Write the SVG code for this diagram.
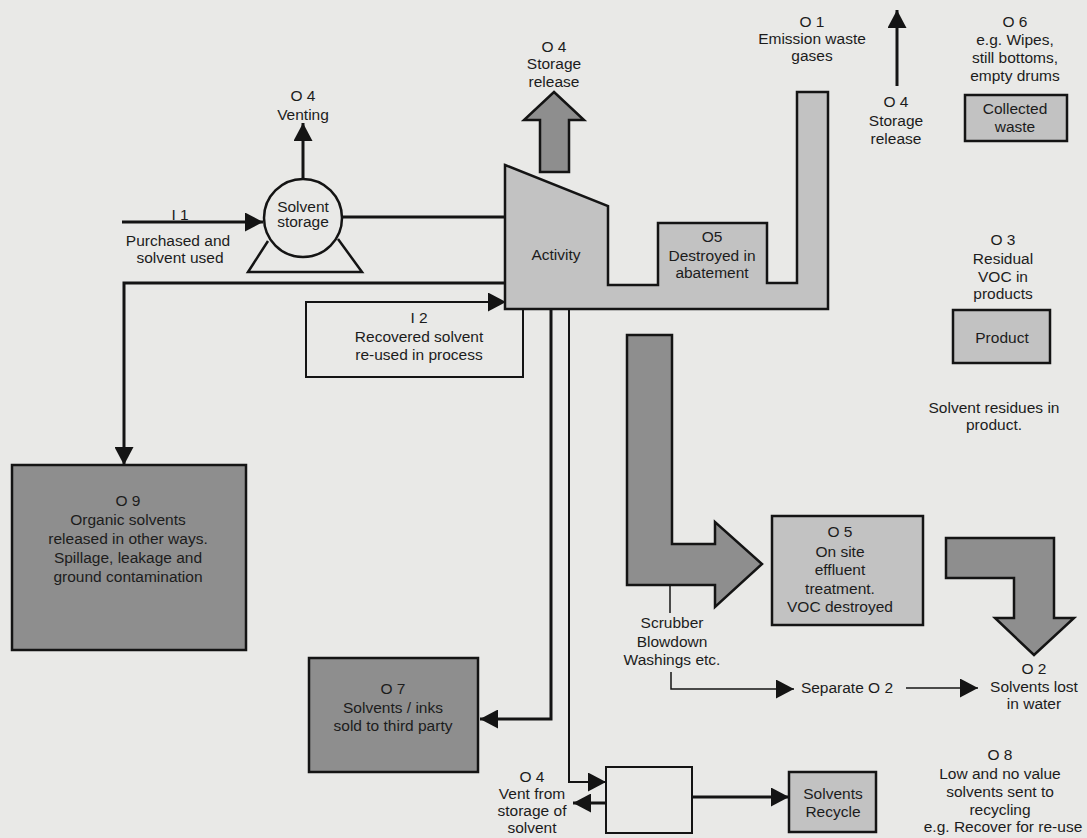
<svg xmlns="http://www.w3.org/2000/svg" width="1087" height="838" viewBox="0 0 1087 838">
<defs>
<marker id="ah" markerUnits="userSpaceOnUse" markerWidth="19" markerHeight="19" refX="18" refY="9.5" orient="auto"><path d="M0,0 L18,9.5 L0,19 z" fill="#141414"/></marker>
</defs>
<style>
text{font-family:"Liberation Sans",Arial,sans-serif;font-size:15.5px;fill:#1c1c1c;text-anchor:middle}
.lt{fill:#c2c2c2;stroke:#141414;stroke-width:2.5}
.dk{fill:#8e8e8e;stroke:#141414;stroke-width:2.5}
.bx{fill:none;stroke:#141414;stroke-width:2}
.ln{fill:none;stroke:#141414;stroke-width:3}
.tn{fill:none;stroke:#141414;stroke-width:2}
.hl{fill:none;stroke:#141414;stroke-width:1.5}
</style>
<rect width="1087" height="838" fill="#e9e9e7"/>

<g id="connectors">
<line class="ln" x1="122" y1="222" x2="263" y2="222" marker-end="url(#ah)"/>
<line class="ln" x1="342" y1="217" x2="506" y2="217"/>
<line class="ln" x1="303" y1="179" x2="303" y2="123" marker-end="url(#ah)"/>
<polyline class="ln" points="506,283 124,283 124,465" marker-end="url(#ah)"/>
<polyline class="ln" points="551,309 551,719 480,719" marker-end="url(#ah)"/>
<polyline class="tn" points="569,309 569,782 606,782" marker-end="url(#ah)"/>
<line class="ln" x1="606" y1="803" x2="573" y2="803" marker-end="url(#ah)"/>
<line class="ln" x1="692" y1="797" x2="789" y2="797" marker-end="url(#ah)"/>
<line class="ln" x1="897" y1="86" x2="897" y2="10" marker-end="url(#ah)"/>
<line class="hl" x1="670" y1="585" x2="670" y2="613"/>
<polyline class="hl" points="671,672 671,689 794,689" marker-end="url(#ah)"/>
<line class="hl" x1="906" y1="688" x2="978" y2="688" marker-end="url(#ah)"/>
</g>

<g id="venting-label">
<text x="303" y="101">O 4</text>
<text x="303" y="120">Venting</text>
</g>

<g id="i1-label">
<text x="180" y="220">I 1</text>
<text x="178" y="246">Purchased and</text>
<text x="180" y="263">solvent used</text>
</g>

<g id="solvent-storage">
<circle cx="303" cy="218" r="39" fill="#e9e9e7" stroke="#141414" stroke-width="2.5"/>
<polyline points="268,241 248,272 362,272 338,239" fill="none" stroke="#141414" stroke-width="2.5"/>
<text x="303" y="212">Solvent</text>
<text x="303" y="227">storage</text>
</g>

<g id="i2">
<rect class="bx" x="306" y="302" width="217" height="75"/>
<line class="tn" x1="306" y1="302" x2="506" y2="302" marker-end="url(#ah)"/>
<text x="419" y="323">I 2</text>
<text x="419" y="342">Recovered solvent</text>
<text x="419" y="360">re-used in process</text>
</g>

<g id="activity">
<polygon class="lt" points="505,165 608,206 608,285 658,285 658,223 767,223 767,283 797,283 797,92 828,92 828,309 505,309"/>
<text x="556" y="260">Activity</text>
<text x="712" y="242">O5</text>
<text x="712" y="261">Destroyed in</text>
<text x="712" y="278">abatement</text>
</g>

<g id="storage-release">
<polygon class="dk" points="554,92 584,120 569,120 569,172 540,172 540,120 524,120"/>
<text x="554" y="52">O 4</text>
<text x="554" y="69">Storage</text>
<text x="554" y="87">release</text>
</g>

<g id="o1-label">
<text x="812" y="27">O 1</text>
<text x="812" y="44">Emission waste</text>
<text x="812" y="61">gases</text>
</g>

<g id="o4-storage-release">
<text x="896" y="107">O 4</text>
<text x="896" y="126">Storage</text>
<text x="896" y="144">release</text>
</g>

<g id="collected-waste">
<text x="1015" y="27">O 6</text>
<text x="1015" y="45">e.g. Wipes,</text>
<text x="1015" y="63">still bottoms,</text>
<text x="1015" y="81">empty drums</text>
<rect class="lt" x="965" y="95" width="102" height="46"/>
<text x="1015" y="114">Collected</text>
<text x="1015" y="132">waste</text>
</g>

<g id="product">
<text x="1003" y="245">O 3</text>
<text x="1003" y="264">Residual</text>
<text x="1003" y="282">VOC in</text>
<text x="1003" y="299">products</text>
<rect class="lt" x="953" y="310" width="97" height="53"/>
<text x="1002" y="343">Product</text>
<text x="994" y="413">Solvent residues in</text>
<text x="994" y="430">product.</text>
</g>

<g id="o9">
<rect class="dk" x="12" y="465" width="234" height="185"/>
<text x="128" y="506">O 9</text>
<text x="128" y="525">Organic solvents</text>
<text x="128" y="544">released in other ways.</text>
<text x="128" y="563">Spillage, leakage and</text>
<text x="128" y="582">ground contamination</text>
</g>

<g id="scrubber-flow">
<polygon class="dk" points="627,335 672,335 672,544 715,544 715,522 762,564 715,607 715,585 627,585"/>
<text x="672" y="628">Scrubber</text>
<text x="672" y="647">Blowdown</text>
<text x="672" y="665">Washings etc.</text>
</g>

<g id="effluent-treatment">
<rect class="lt" x="772" y="516" width="151" height="109"/>
<text x="840" y="537">O 5</text>
<text x="840" y="557">On site</text>
<text x="840" y="575">effluent</text>
<text x="840" y="594">treatment.</text>
<text x="840" y="612">VOC destroyed</text>
</g>

<g id="o2-flow">
<polygon class="dk" points="946,538 1054,538 1054,618 1074,618 1034,655 995,618 1014,618 1014,578 946,578"/>
</g>

<g id="separate-o2">
<text x="847" y="693">Separate O 2</text>
</g>

<g id="o2">
<text x="1034" y="674">O 2</text>
<text x="1034" y="692">Solvents lost</text>
<text x="1034" y="709">in water</text>
</g>

<g id="o7">
<rect class="dk" x="309" y="658" width="169" height="114"/>
<text x="393" y="694">O 7</text>
<text x="393" y="713">Solvents / inks</text>
<text x="393" y="731">sold to third party</text>
</g>

<g id="recycle-tank">
<rect class="bx" x="606" y="767" width="86" height="66"/>
</g>

<g id="vent-label">
<text x="532" y="782">O 4</text>
<text x="532" y="799">Vent from</text>
<text x="532" y="816">storage of</text>
<text x="532" y="833">solvent</text>
</g>

<g id="solvents-recycle">
<rect class="lt" x="789" y="772" width="87" height="60"/>
<text x="833" y="799">Solvents</text>
<text x="833" y="817">Recycle</text>
</g>

<g id="o8">
<text x="1000" y="760">O 8</text>
<text x="1000" y="779">Low and no value</text>
<text x="1000" y="797">solvents sent to</text>
<text x="1000" y="815">recycling</text>
<text x="1003" y="832">e.g. Recover for re-use</text>
</g>
</svg>
